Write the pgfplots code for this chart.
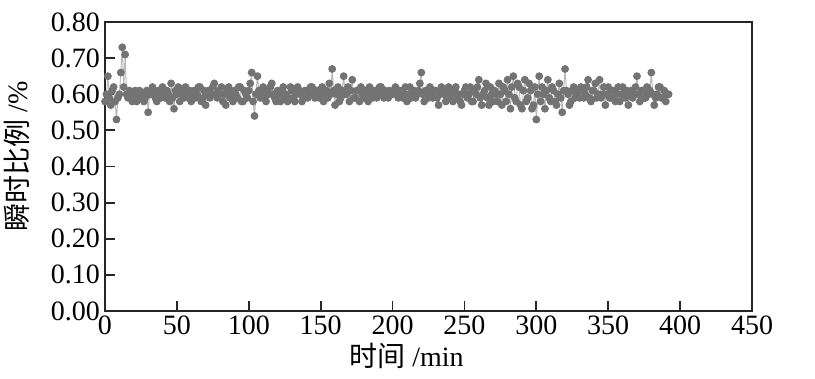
\documentclass[border=0pt]{standalone}
\usepackage{pgfplots}
\pgfplotsset{compat=1.18}
\usepackage{pgfplotstable}
\usepackage{fontspec}
\setmainfont{Liberation Serif}
\newfontfamily\cjk{Noto Sans CJK SC}
\pgfplotstableread[row sep=\\]{
x y\\
0 0.58\\ 1 0.60\\ 2 0.65\\ 3 0.59\\ 4 0.57\\ 5 0.61\\ 6 0.62\\ 7 0.58\\ 8 0.53\\ 9 0.59\\
10 0.60\\ 11 0.66\\ 12 0.73\\ 13 0.62\\ 14 0.71\\ 15 0.60\\ 16 0.59\\ 17 0.61\\ 18 0.60\\ 19 0.58\\
20 0.59\\ 21 0.61\\ 22 0.58\\ 23 0.60\\ 24 0.61\\ 25 0.59\\ 26 0.60\\ 27 0.58\\ 28 0.59\\ 29 0.61\\
30 0.55\\ 31 0.60\\ 32 0.60\\ 33 0.62\\ 34 0.61\\ 35 0.59\\ 36 0.58\\ 37 0.61\\ 38 0.60\\ 39 0.59\\
40 0.62\\ 41 0.60\\ 42 0.59\\ 43 0.61\\ 44 0.60\\ 45 0.58\\ 46 0.63\\ 47 0.59\\ 48 0.56\\ 49 0.61\\
50 0.60\\ 51 0.62\\ 52 0.58\\ 53 0.60\\ 54 0.61\\ 55 0.59\\ 56 0.62\\ 57 0.60\\ 58 0.59\\ 59 0.61\\
60 0.58\\ 61 0.60\\ 62 0.61\\ 63 0.59\\ 64 0.60\\ 65 0.62\\ 66 0.62\\ 67 0.58\\ 68 0.59\\ 69 0.61\\
70 0.57\\ 71 0.60\\ 72 0.61\\ 73 0.59\\ 74 0.60\\ 75 0.62\\ 76 0.63\\ 77 0.60\\ 78 0.59\\ 79 0.61\\
80 0.60\\ 81 0.62\\ 82 0.58\\ 83 0.60\\ 84 0.57\\ 85 0.61\\ 86 0.62\\ 87 0.59\\ 88 0.60\\ 89 0.58\\
90 0.61\\ 91 0.60\\ 92 0.59\\ 93 0.62\\ 94 0.62\\ 95 0.58\\ 96 0.58\\ 97 0.61\\ 98 0.60\\ 99 0.59\\
100 0.61\\ 101 0.63\\ 102 0.66\\ 103 0.58\\ 104 0.54\\ 105 0.60\\ 106 0.65\\ 107 0.61\\ 108 0.59\\ 109 0.60\\
110 0.62\\ 111 0.59\\ 112 0.58\\ 113 0.61\\ 114 0.60\\ 115 0.62\\ 116 0.63\\ 117 0.60\\ 118 0.59\\ 119 0.58\\
120 0.61\\ 121 0.60\\ 122 0.58\\ 123 0.61\\ 124 0.62\\ 125 0.59\\ 126 0.60\\ 127 0.58\\ 128 0.59\\ 129 0.62\\
130 0.61\\ 131 0.59\\ 132 0.58\\ 133 0.60\\ 134 0.62\\ 135 0.61\\ 136 0.60\\ 137 0.58\\ 138 0.59\\ 139 0.61\\
140 0.61\\ 141 0.59\\ 142 0.60\\ 143 0.62\\ 144 0.62\\ 145 0.60\\ 146 0.59\\ 147 0.61\\ 148 0.61\\ 149 0.59\\
150 0.60\\ 151 0.62\\ 152 0.58\\ 153 0.60\\ 154 0.61\\ 155 0.59\\ 156 0.63\\ 157 0.60\\ 158 0.67\\ 159 0.61\\
160 0.57\\ 161 0.60\\ 162 0.62\\ 163 0.58\\ 164 0.59\\ 165 0.61\\ 166 0.65\\ 167 0.60\\ 168 0.60\\ 169 0.62\\
170 0.58\\ 171 0.61\\ 172 0.64\\ 173 0.59\\ 174 0.59\\ 175 0.61\\ 176 0.61\\ 177 0.58\\ 178 0.62\\ 179 0.60\\
180 0.59\\ 181 0.61\\ 182 0.60\\ 183 0.58\\ 184 0.62\\ 185 0.60\\ 186 0.59\\ 187 0.61\\ 188 0.61\\ 189 0.59\\
190 0.60\\ 191 0.62\\ 192 0.62\\ 193 0.60\\ 194 0.59\\ 195 0.61\\ 196 0.60\\ 197 0.59\\ 198 0.61\\ 199 0.60\\
200 0.60\\ 201 0.61\\ 202 0.62\\ 203 0.60\\ 204 0.59\\ 205 0.61\\ 206 0.61\\ 207 0.59\\ 208 0.60\\ 209 0.62\\
210 0.58\\ 211 0.60\\ 212 0.62\\ 213 0.59\\ 214 0.60\\ 215 0.61\\ 216 0.59\\ 217 0.60\\ 218 0.61\\ 219 0.63\\
220 0.66\\ 221 0.60\\ 222 0.58\\ 223 0.61\\ 224 0.60\\ 225 0.59\\ 226 0.62\\ 227 0.60\\ 228 0.59\\ 229 0.61\\
230 0.61\\ 231 0.59\\ 232 0.57\\ 233 0.60\\ 234 0.62\\ 235 0.61\\ 236 0.60\\ 237 0.58\\ 238 0.59\\ 239 0.62\\
240 0.61\\ 241 0.60\\ 242 0.58\\ 243 0.61\\ 244 0.62\\ 245 0.59\\ 246 0.60\\ 247 0.58\\ 248 0.57\\ 249 0.60\\
250 0.61\\ 251 0.62\\ 252 0.59\\ 253 0.60\\ 254 0.62\\ 255 0.58\\ 256 0.58\\ 257 0.61\\ 258 0.60\\ 259 0.62\\
260 0.64\\ 261 0.59\\ 262 0.57\\ 263 0.60\\ 264 0.61\\ 265 0.63\\ 266 0.59\\ 267 0.57\\ 268 0.62\\ 269 0.60\\
270 0.58\\ 271 0.61\\ 272 0.60\\ 273 0.58\\ 274 0.63\\ 275 0.60\\ 276 0.57\\ 277 0.62\\ 278 0.61\\ 279 0.58\\
280 0.64\\ 281 0.60\\ 282 0.56\\ 283 0.62\\ 284 0.65\\ 285 0.59\\ 286 0.58\\ 287 0.63\\ 288 0.62\\ 289 0.57\\
290 0.56\\ 291 0.61\\ 292 0.64\\ 293 0.58\\ 294 0.59\\ 295 0.63\\ 296 0.61\\ 297 0.56\\ 298 0.57\\ 299 0.62\\
300 0.53\\ 301 0.60\\ 302 0.65\\ 303 0.58\\ 304 0.62\\ 305 0.60\\ 306 0.56\\ 307 0.61\\ 308 0.64\\ 309 0.59\\
310 0.58\\ 311 0.62\\ 312 0.61\\ 313 0.58\\ 314 0.57\\ 315 0.60\\ 316 0.63\\ 317 0.59\\ 318 0.55\\ 319 0.61\\
320 0.67\\ 321 0.61\\ 322 0.60\\ 323 0.57\\ 324 0.58\\ 325 0.61\\ 326 0.62\\ 327 0.59\\ 328 0.60\\ 329 0.61\\
330 0.59\\ 331 0.62\\ 332 0.61\\ 333 0.59\\ 334 0.60\\ 335 0.62\\ 336 0.64\\ 337 0.59\\ 338 0.58\\ 339 0.61\\
340 0.61\\ 341 0.63\\ 342 0.59\\ 343 0.60\\ 344 0.64\\ 345 0.59\\ 346 0.60\\ 347 0.62\\ 348 0.57\\ 349 0.60\\
350 0.62\\ 351 0.59\\ 352 0.59\\ 353 0.61\\ 354 0.61\\ 355 0.58\\ 356 0.60\\ 357 0.62\\ 358 0.58\\ 359 0.60\\
360 0.62\\ 361 0.60\\ 362 0.59\\ 363 0.61\\ 364 0.57\\ 365 0.60\\ 366 0.61\\ 367 0.59\\ 368 0.60\\ 369 0.62\\
370 0.65\\ 371 0.60\\ 372 0.58\\ 373 0.61\\ 374 0.61\\ 375 0.59\\ 376 0.59\\ 377 0.62\\ 378 0.60\\ 379 0.61\\
380 0.66\\ 381 0.60\\ 382 0.57\\ 383 0.59\\ 384 0.60\\ 385 0.62\\ 386 0.62\\ 387 0.59\\ 388 0.59\\ 389 0.61\\
390 0.58\\ 391 0.60\\ 392 0.60\\
}\datatable
\begin{document}
\begin{tikzpicture}
\begin{axis}[
  scale only axis,
  width=323.5pt, height=144.5pt,
  xmin=0, xmax=450, ymin=0, ymax=0.8,
  xtick={0,50,...,450},
  ytick={0,0.1,...,0.8},
  yticklabel style={/pgf/number format/fixed,/pgf/number format/fixed zerofill,/pgf/number format/precision=2},
  /pgf/number format/assume math mode=true,
  tick align=inside,
  xtick pos=bottom, ytick pos=left,
  major tick length=5pt,
  tick style={line width=0.9pt, black!85},
  axis line style={line width=1pt, black!85},
  ticklabel style={font=\fontsize{14}{16}\selectfont},
  xticklabel style={yshift=1pt},
  yticklabel style={xshift=1pt},
  xlabel={{\cjk 时间} /min},
  ylabel={{\cjk 瞬时比例} /\%},
  label style={font=\fontsize{14}{16}\selectfont},
  xlabel style={yshift=3pt, xshift=-11pt},
  ylabel style={yshift=3.5pt, xshift=5pt},
]
\addplot[color=gray!55, line width=0.5pt, mark=*, mark size=1.7pt,
  mark options={fill=black!55, draw=black!55}] table[x=x,y=y] {\datatable};
\coordinate (sw) at (rel axis cs:0,0);
\coordinate (ne) at (rel axis cs:1,1);
\end{axis}
\pgfresetboundingbox
\path ([shift={(-52.5pt,-34pt)}]sw) rectangle ([shift={(31.5pt,11pt)}]ne);
\end{tikzpicture}
\end{document}
